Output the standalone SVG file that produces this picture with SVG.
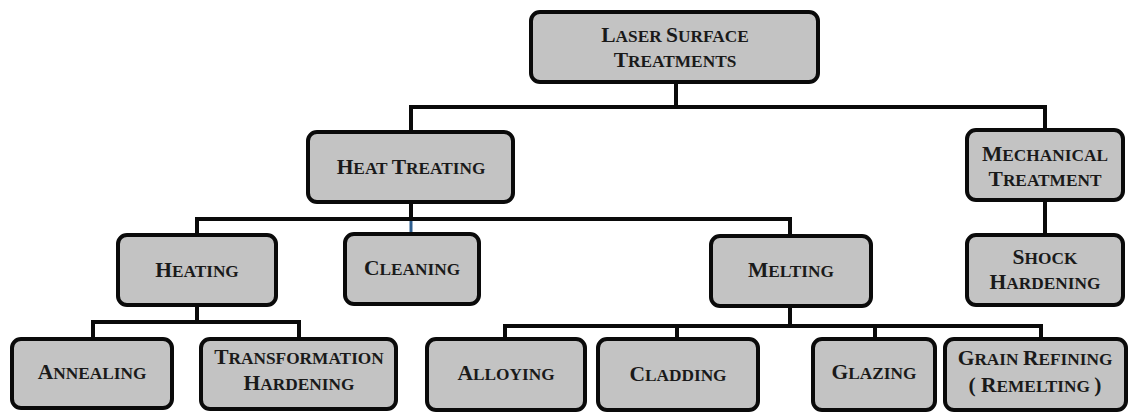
<svg xmlns="http://www.w3.org/2000/svg" width="1130" height="412" viewBox="0 0 1130 412">
<style>
.box{fill:#c3c3c3;stroke:#0a0a0a;stroke-width:4}
.ln{fill:none;stroke:#0a0a0a;stroke-width:4;stroke-linecap:square}
.blue{fill:none;stroke:#2d5d8e;stroke-width:3}
text{font-family:"Liberation Serif","Times New Roman",serif;font-weight:bold;font-size:17.3px;fill:#1a1a1a;text-anchor:middle}
.k{font-size:21.5px}
</style>
<rect width="1130" height="412" fill="#ffffff"/>
<g id="connectors">
<path class="ln" d="M676 82V107M411 107H1045M411 107V132M1045 107V130"/>
<path class="ln" d="M1045 200V235"/>
<path class="ln" d="M411 202V219M197 219H790M197 219V235M790 219V236"/>
<path class="blue" d="M411 221V234"/>
<path class="ln" d="M197 305V322M93 322H299M93 322V339M299 322V339"/>
<path class="ln" d="M790 306V326M505 326H1041M505 326V339M677 326V339M875 326V339M1041 326V339"/>
</g>
<g id="laser-surface-treatments">
<rect class="box" x="531" y="12" width="287" height="70" rx="9"/>
<text x="675" y="42"><tspan class="k">L</tspan>ASER <tspan class="k">S</tspan>URFACE</text>
<text x="675" y="67"><tspan class="k">T</tspan>REATMENTS</text>
</g>
<g id="heat-treating">
<rect class="box" x="308" y="132" width="205" height="70" rx="9"/>
<text x="411" y="174"><tspan class="k">H</tspan>EAT <tspan class="k">T</tspan>REATING</text>
</g>
<g id="mechanical-treatment">
<rect class="box" x="967" y="130" width="156" height="70" rx="9"/>
<text x="1045" y="161"><tspan class="k">M</tspan>ECHANICAL</text>
<text x="1045" y="186"><tspan class="k">T</tspan>REATMENT</text>
</g>
<g id="shock-hardening">
<rect class="box" x="967" y="235" width="156" height="70" rx="9"/>
<text x="1045" y="264"><tspan class="k">S</tspan>HOCK</text>
<text x="1045" y="289"><tspan class="k">H</tspan>ARDENING</text>
</g>
<g id="heating">
<rect class="box" x="118" y="235" width="158" height="70" rx="9"/>
<text x="197" y="277"><tspan class="k">H</tspan>EATING</text>
</g>
<g id="cleaning">
<rect class="box" x="345" y="234" width="134" height="70" rx="9"/>
<text x="412" y="275"><tspan class="k">C</tspan>LEANING</text>
</g>
<g id="melting">
<rect class="box" x="711" y="236" width="160" height="70" rx="9"/>
<text x="791" y="277"><tspan class="k">M</tspan>ELTING</text>
</g>
<g id="annealing">
<rect class="box" x="12" y="339" width="160" height="69" rx="9"/>
<text x="92" y="379"><tspan class="k">A</tspan>NNEALING</text>
</g>
<g id="transformation-hardening">
<rect class="box" x="201" y="339" width="195" height="70" rx="9"/>
<text x="299" y="364"><tspan class="k">T</tspan>RANSFORMATION</text>
<text x="299" y="390"><tspan class="k">H</tspan>ARDENING</text>
</g>
<g id="alloying">
<rect class="box" x="427" y="339" width="158" height="71" rx="9"/>
<text x="506" y="380"><tspan class="k">A</tspan>LLOYING</text>
</g>
<g id="cladding">
<rect class="box" x="598" y="339" width="160" height="71" rx="9"/>
<text x="678" y="381"><tspan class="k">C</tspan>LADDING</text>
</g>
<g id="glazing">
<rect class="box" x="813" y="339" width="122" height="71" rx="9"/>
<text x="874" y="379"><tspan class="k">G</tspan>LAZING</text>
</g>
<g id="grain-refining">
<rect class="box" x="945" y="339" width="181" height="71" rx="9"/>
<text x="1035" y="365"><tspan class="k">G</tspan>RAIN <tspan class="k">R</tspan>EFINING</text>
<text x="1035" y="392"><tspan class="k">( R</tspan>EMELTING <tspan class="k">)</tspan></text>
</g>
</svg>
